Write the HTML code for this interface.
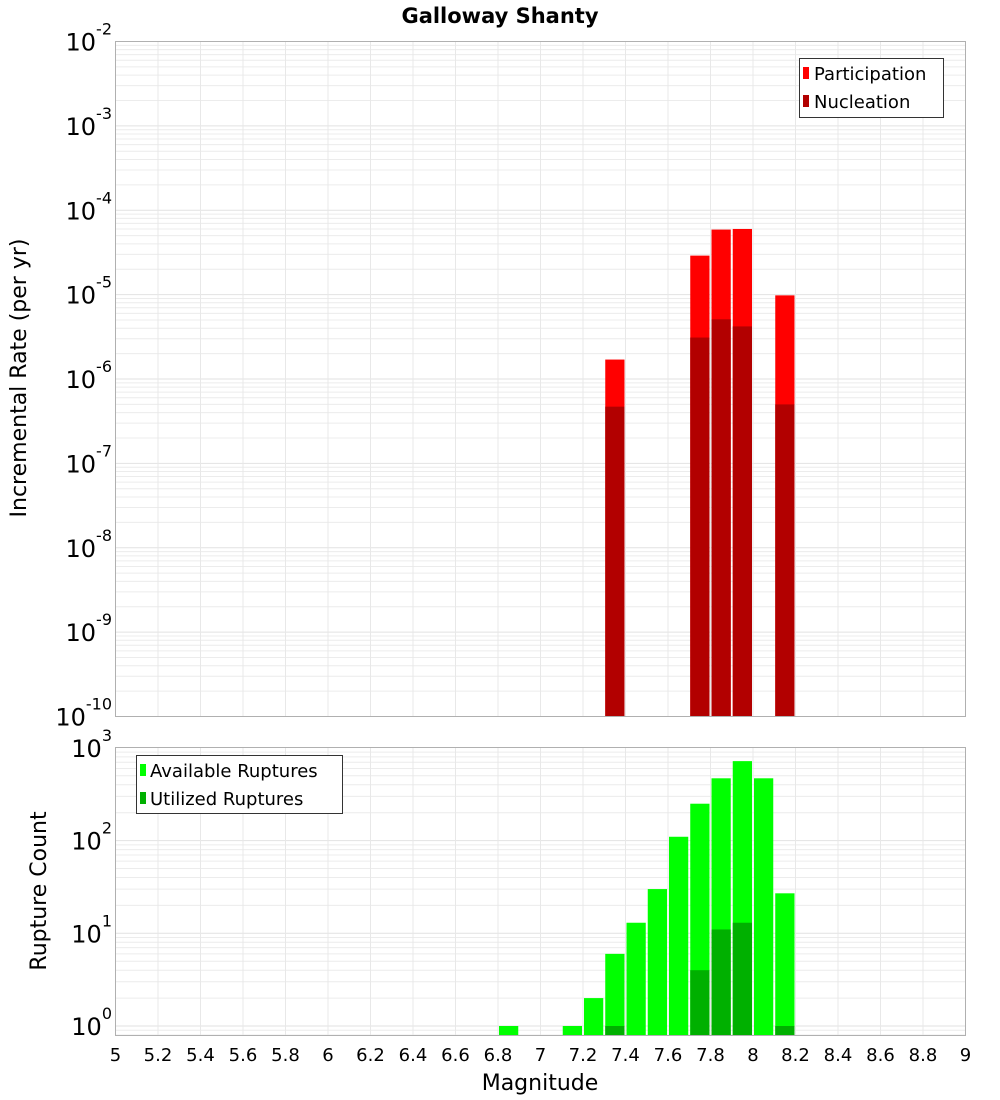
<!DOCTYPE html>
<html><head><meta charset="utf-8">
<style>
html,body{margin:0;padding:0;background:#fff;}
svg{display:block;font-family:"DejaVu Sans","Liberation Sans",sans-serif;}
</style></head>
<body>
<svg id="chart" width="1000" height="1100" viewBox="0 0 1000 1100" xmlns="http://www.w3.org/2000/svg">
<text x="500" y="23" text-anchor="middle" font-size="21" font-weight="bold">Galloway Shanty</text>
<g id="top"></g>
<g id="bot"></g>
<text transform="translate(26,378) rotate(-90)" text-anchor="middle" font-size="22">Incremental Rate (per yr)</text>
<text transform="translate(46,891) rotate(-90)" text-anchor="middle" font-size="22">Rupture Count</text>
<text x="540" y="1090" text-anchor="middle" font-size="22">Magnitude</text>
</svg>
<script>
const mags = [6.85,7.15,7.25,7.35,7.45,7.55,7.65,7.75,7.85,7.95,8.05,8.15];
const available = [1,1,2,6,13,30,110,250,470,720,470,27];
const utilized = [0,0,0,1,0,0,0,4,11,13,0,1];
const rateMags = [7.35,7.75,7.85,7.95,8.15];
const participation = [1.7e-6,2.9e-5,5.9e-5,6.0e-5,9.8e-6];
const nucleation = [4.7e-7,3.1e-6,5.1e-6,4.2e-6,5.0e-7];
const xTicks = [5,5.2,5.4,5.6,5.8,6,6.2,6.4,6.6,6.8,7,7.2,7.4,7.6,7.8,8,8.2,8.4,8.6,8.8,9];
const topExps = [-2,-3,-4,-5,-6,-7,-8,-9,-10];
const botExps = [3,2,1,0];

const NS="http://www.w3.org/2000/svg";
const L=115.5,R=965.5;
const x=m=>L+(m-5)/4*(R-L);
const T1=41.5,B1=716.5;
const yTop=v=>T1+(-2-Math.log10(v))/8*(B1-T1);
const T2=747.5,B2=1035.5;
const yBot=v=>1026-92.7*Math.log10(v);
function mk(parent,tag,attrs){const e=document.createElementNS(NS,tag);for(const k in attrs)e.setAttribute(k,attrs[k]);parent.appendChild(e);return e;}

function grid(g,top,bot,yfn,expLo,expHi){
  for(let e=expLo;e<expHi;e++){for(let k=1;k<10;k++){const v=k*Math.pow(10,e);const yy=yfn(v);if(yy<top-0.5||yy>bot+0.5)continue;
    const ln=mk(g,'line',{x1:L,x2:R,y1:yy,y2:yy,stroke:k===1?'#e2e2e2':'#ececec','stroke-width':1});
    
    }}
  xTicks.forEach(t=>{const ln=mk(g,'line',{x1:x(t),x2:x(t),y1:top,y2:bot,stroke:'#e8e8e8','stroke-width':1});
    
    });
}
function ylabel(g,yy,exp,name){
  const t=mk(g,'text',{x:112,y:yy+9,'text-anchor':'end','font-size':24});
  
  
  t.appendChild(document.createTextNode('10'));
  const s=mk(t,'tspan',{dy:-16,'font-size':16});s.textContent=String(exp);
}

// top panel
const gt=document.getElementById('top');
grid(gt,T1,B1,yTop,-10,-1);
rateMags.forEach((m,i)=>{
  const r=mk(gt,'rect',{x:x(m-0.05)+1,width:x(m+0.05)-x(m-0.05)-2,y:yTop(participation[i]),height:B1-yTop(participation[i]),fill:'#ff0000'});
  
  
  const n=mk(gt,'rect',{x:x(m-0.05)+1,width:x(m+0.05)-x(m-0.05)-2,y:yTop(nucleation[i]),height:B1-yTop(nucleation[i]),fill:'#b20000'});
  
  
});
const f1=mk(gt,'rect',{x:L,y:T1,width:R-L,height:B1-T1,fill:'none',stroke:'#b0b0b0'});


topExps.forEach(e=>ylabel(gt,yTop(Math.pow(10,e)),e,'top-y-tick-label'));
// top legend
const lg1=mk(gt,'g',{});


mk(lg1,'rect',{x:799.5,y:58.5,width:144,height:59,fill:'#fff',stroke:'#333'});
mk(lg1,'rect',{x:803,y:67,width:6,height:12,fill:'#ff0000'});
const tl1=mk(lg1,'text',{x:814,y:80,'font-size':18});tl1.textContent='Participation';


mk(lg1,'rect',{x:803,y:95,width:6,height:12,fill:'#b20000'});
const tl2=mk(lg1,'text',{x:814,y:108,'font-size':18});tl2.textContent='Nucleation';



// bottom panel
const gb=document.getElementById('bot');
grid(gb,T2,B2,yBot,-1,3);
mags.forEach((m,i)=>{
  const a=mk(gb,'rect',{x:x(m-0.05)+1,width:x(m+0.05)-x(m-0.05)-2,y:yBot(available[i]),height:B2-yBot(available[i]),fill:'#00ff00'});
  
  
  if(utilized[i]>0){
    const u=mk(gb,'rect',{x:x(m-0.05)+1,width:x(m+0.05)-x(m-0.05)-2,y:yBot(utilized[i]),height:B2-yBot(utilized[i]),fill:'#00b000'});
    
    
  }
});
const f2=mk(gb,'rect',{x:L,y:T2,width:R-L,height:B2-T2,fill:'none',stroke:'#b0b0b0'});


botExps.forEach(e=>ylabel(gb,yBot(Math.pow(10,e)),e,'bottom-y-tick-label'));
xTicks.forEach(t=>{
  const tx=mk(gb,'text',{x:x(t),y:1061,'text-anchor':'middle','font-size':18});
  tx.textContent=String(t);
  
  
});
const lg2=mk(gb,'g',{});


mk(lg2,'rect',{x:136.5,y:755.5,width:206,height:58,fill:'#fff',stroke:'#333'});
mk(lg2,'rect',{x:140,y:764,width:6,height:12,fill:'#00ff00'});
const bl1=mk(lg2,'text',{x:150,y:777,'font-size':18});bl1.textContent='Available Ruptures';


mk(lg2,'rect',{x:140,y:792,width:6,height:12,fill:'#00b000'});
const bl2=mk(lg2,'text',{x:150,y:805,'font-size':18});bl2.textContent='Utilized Ruptures';


</script>
</body></html>
